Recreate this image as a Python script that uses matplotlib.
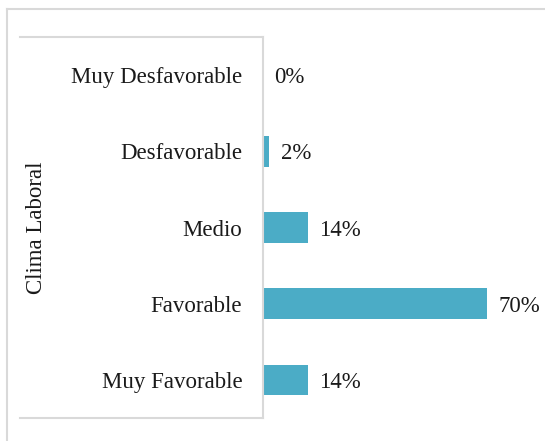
import matplotlib.pyplot as plt
from matplotlib.lines import Line2D

categorias = ['Muy Favorable', 'Favorable', 'Medio', 'Desfavorable', 'Muy Desfavorable']
porcentajes = [14, 70, 14, 2, 0]

plt.rcParams['font.family'] = ['Liberation Serif', 'DejaVu Serif']
FS = 16.5
NEGRO = '#1a1a1a'

fig = plt.figure(figsize=(5.45, 4.41), dpi=100)
W, H = 545, 441

# plot area: axis line at x=263, from y=37 to y=418 (pixels from top)
ax = fig.add_axes([263 / W, (H - 418) / H, 270 / W, 381 / H])

pos = list(range(len(categorias)))
bars = ax.barh(pos, porcentajes, height=0.4, color='#4BACC6')
ax.set_xlim(0, 270 / 3.2)
ax.set_ylim(-0.5, len(categorias) - 0.5)

for b, v in zip(bars, porcentajes):
    ax.annotate('%d%%' % v, (b.get_width(), b.get_y() + b.get_height() / 2),
                xytext=(8, 0), textcoords='offset points',
                va='center_baseline', ha='left', fontsize=FS, color=NEGRO)

ax.set_yticks(pos)
ax.set_yticklabels(categorias, fontsize=FS, color=NEGRO)
ax.tick_params(axis='y', length=0, pad=15)
ax.set_xticks([])
for s in ['top', 'right', 'bottom']:
    ax.spines[s].set_visible(False)
ax.spines['left'].set_color('#D9D9D9')
ax.spines['left'].set_linewidth(1.5)

# box lines around the category labels
gris = '#D9D9D9'
fig.add_artist(Line2D([20 / W, 263 / W], [(H - 37) / H] * 2, color=gris, lw=1.5))
fig.add_artist(Line2D([20 / W, 263 / W], [(H - 418) / H] * 2, color=gris, lw=1.5))
# outer frame
fig.add_artist(Line2D([6.5 / W, 6.5 / W], [0, (H - 8.5) / H], color=gris, lw=1.5))
fig.add_artist(Line2D([6.5 / W, 1], [(H - 8.5) / H] * 2, color=gris, lw=1.5))

fig.text(37 / W, (H - 228) / H, 'Clima Laboral', rotation=90,
         ha='center', va='center', fontsize=FS, color=NEGRO)

plt.savefig('out.png', dpi=100)
